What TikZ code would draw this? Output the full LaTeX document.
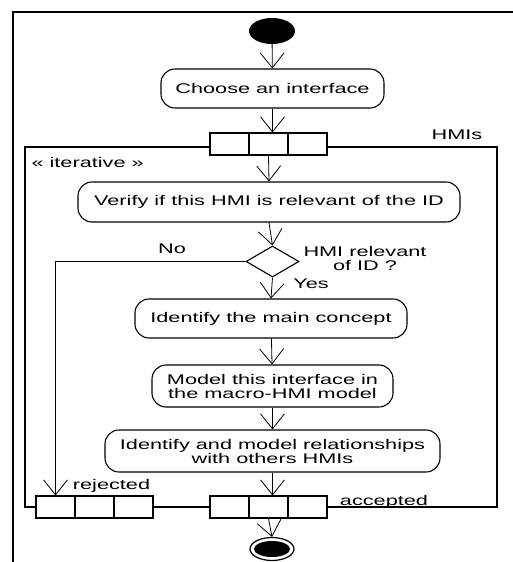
\documentclass[tikz,border=0pt]{standalone}
\usepackage{fontspec}
\setmainfont{Liberation Sans}[FakeStretch=1.55]
\usetikzlibrary{arrows.meta,shapes.geometric}

\begin{document}
\begin{tikzpicture}[x=1pt, y=-1pt, font=\fontsize{14}{14}\selectfont,
	action/.style={draw, line width=1.1pt, rounded corners=14pt, align=center, inner sep=0pt},
	pinbox/.style={draw, fill=white, line width=1.1pt, minimum width=39pt, minimum height=22pt, inner sep=0pt},
	flow/.style={line width=0.8pt, -{Straight Barb[length=15pt, width=24pt, line width=0.8pt]}}] % activity
	\useasboundingbox (0,0) rectangle (512,562);
	\draw[line width=1.8pt] (13,563) -- (13,12) -- (513,12);
	\draw[line width=1.8pt] (25,147) rectangle (497,507); % expansion region
	\node[anchor=west] (iter) at (28,162) {« iterative »};
	\node (hmis) at (457,135) {HMIs};
	\node[ellipse, fill=black, minimum width=46pt, minimum height=26pt, inner sep=0pt] (start) at (272,31) {};
	\node[action, minimum width=223pt, minimum height=39pt] (choose) at (272.5,88.5) {Choose an interface};
	\node[pinbox] (inL) at (229.5,144) {};
	\node[pinbox] (inM) at (268.5,144) {};
	\node[pinbox] (inR) at (307.5,144) {};
	\node[action, minimum width=382pt, minimum height=40pt] (verify) at (269,202) {Verify if this HMI is relevant of the ID};
	\node[diamond, draw, line width=1.1pt, minimum width=53pt, minimum height=31pt, inner sep=0pt] (dec) at (272.5,261.5) {};
	\node[align=center] (cond) at (365,258) {HMI relevant\\of ID ?};
	\node (no) at (172,249) {No};
	\node (yes) at (311,284) {Yes};
	\node[action, minimum width=272pt, minimum height=39pt] (concept) at (271,318.5) {Identify the main concept};
	\node[action, minimum width=241pt, minimum height=42pt] (macro) at (272.5,386) {Model this interface in\\the macro-HMI model};
	\node[action, minimum width=335pt, minimum height=42pt] (relat) at (272.5,451) {Identify and model relationships\\with others HMIs};
	\node[pinbox] (rejL) at (55.5,507) {};
	\node[pinbox] (rejM) at (94.5,507) {};
	\node[pinbox] (rejR) at (133.5,507) {};
	\node[pinbox] (accL) at (229.5,507) {};
	\node[pinbox] (accM) at (268.5,507) {};
	\node[pinbox] (accR) at (307.5,507) {};
	\node (rej) at (111.5,486) {rejected};
	\node (acc) at (384,502) {accepted};
	\node[ellipse, draw, line width=1.2pt, minimum width=44pt, minimum height=23pt, inner sep=0pt] (final) at (272,549) {};
	\node[ellipse, fill=black, minimum width=36pt, minimum height=16pt, inner sep=0pt] (finalin) at (final) {};
	\draw[flow] (start) -- (choose);
	\draw[flow] (choose.south) -- (choose.south |- inM.north);
	\draw[flow] (inM.south) -- (verify.north);
	\draw[flow] (verify.south) -- (dec.north);
	\draw[flow] (dec.south) -- (concept.north);
	\draw[flow] (dec.west) -| (rejL.north);
	\draw[flow] (concept) -- (macro);
	\draw[flow] (macro) -- (relat);
	\draw[flow] (relat.south) -- (relat.south |- accM.north);
	\draw[flow] (accM.south) -- (final.north);
\end{tikzpicture}
\end{document}
